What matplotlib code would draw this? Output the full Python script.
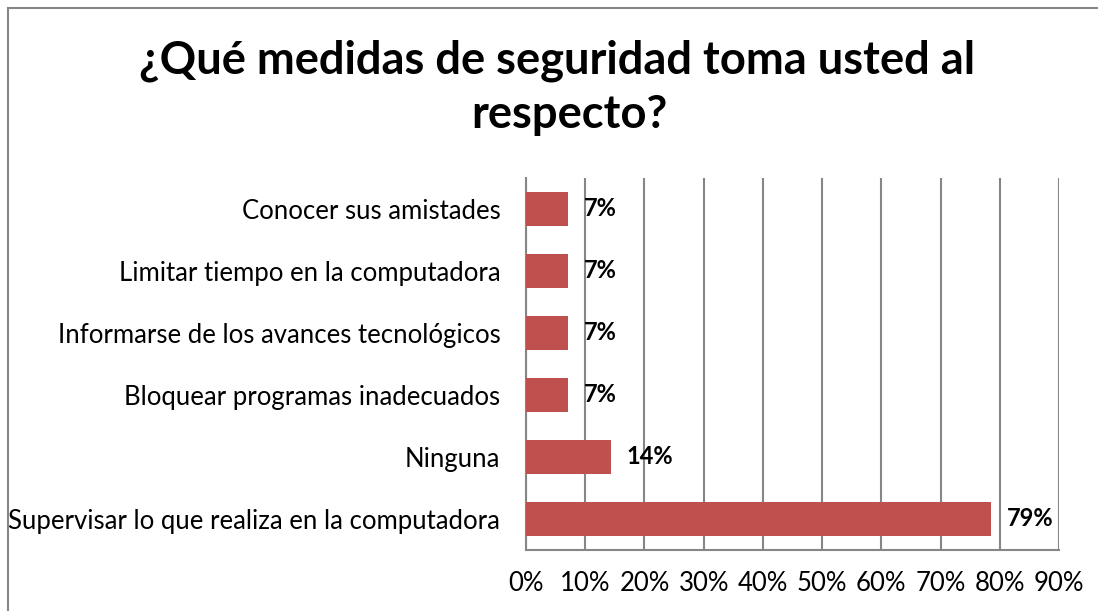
import matplotlib
matplotlib.use("Agg")
import matplotlib.pyplot as plt
from matplotlib.patches import Rectangle

# Survey results (share of respondents)
categories = [
    "Supervisar lo que realiza en la computadora",
    "Ninguna",
    "Bloquear programas inadecuados",
    "Informarse de los avances tecnológicos",
    "Limitar tiempo en la computadora",
    "Conocer sus amistades",
]
values = [11 / 14, 2 / 14, 1 / 14, 1 / 14, 1 / 14, 1 / 14]
value_labels = ["79%", "14%", "7%", "7%", "7%", "7%"]
x_ticks = [0.0, 0.1, 0.2, 0.3, 0.4, 0.5, 0.6, 0.7, 0.8, 0.9]
x_tick_labels = ["0%", "10%", "20%", "30%", "40%", "50%", "60%", "70%", "80%", "90%"]
title_lines = ["¿Qué medidas de seguridad toma usted al", "respecto?"]

BAR = "#C0504D"
GRID = "#868686"
FONT = "Lato"

plt.rcParams["font.family"] = [FONT, "DejaVu Sans"]

fig = plt.figure(figsize=(10.98, 6.11), dpi=100)
W, H = 1098, 611

# chart frame
fig.patches.append(Rectangle((8 / W, -0.05), 1.2, 1 - 8 / H + 0.05,
                             transform=fig.transFigure, fill=False,
                             edgecolor=GRID, linewidth=1.5))

ax = fig.add_axes([526 / W, 1 - 550 / H, (1059 - 526) / W, (550 - 178) / H])

ypos = list(range(len(categories)))
ax.barh(ypos, values, height=0.555, color=BAR, zorder=3)

ax.set_xlim(0, 0.9)
ax.set_ylim(-0.5, len(categories) - 0.5)
ax.set_xticks(x_ticks)
ax.set_xticklabels(x_tick_labels, fontsize=18.5, color="black")
ax.set_yticks(ypos)
ax.set_yticklabels(categories, fontsize=18.5, color="black")
ax.tick_params(axis="x", length=0, pad=15)
ax.tick_params(axis="y", length=0, pad=18.5)

ax.grid(axis="x", color=GRID, linewidth=1.5, zorder=0)
ax.grid(axis="y", visible=False)
for side in ("top", "right"):
    ax.spines[side].set_visible(False)
for side in ("left", "bottom"):
    ax.spines[side].set_color(GRID)
    ax.spines[side].set_linewidth(1.5)

for y, v, lab in zip(ypos, values, value_labels):
    ax.annotate(lab, (v, y), xytext=(11.5, 0), textcoords="offset points",
                ha="left", va="center", fontsize=17, fontweight="bold",
                color="black", zorder=4)

# two-line title, each line on its own baseline
for (cx, base), line in zip([(557, 73), (569, 128)], title_lines):
    fig.text(cx / W, 1 - base / H, line, ha="center", va="baseline",
             fontsize=32.6, fontweight="bold", color="black")

fig.savefig("out.png", dpi=100, facecolor="white")
